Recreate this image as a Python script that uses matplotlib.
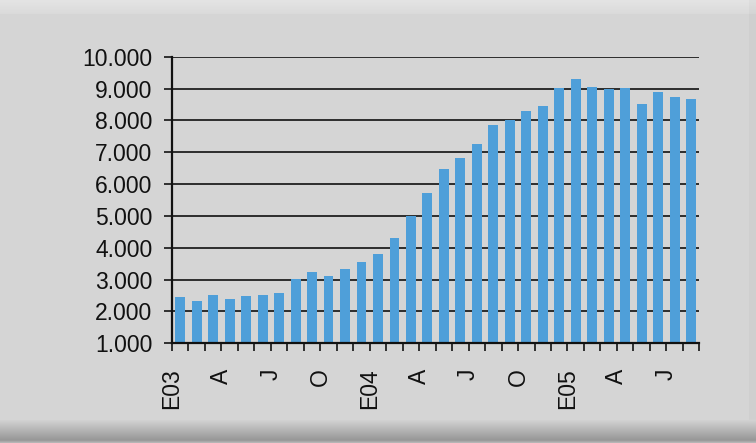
import numpy as np
import matplotlib
matplotlib.use("Agg")
import matplotlib.pyplot as plt
from matplotlib.ticker import FuncFormatter

# Monthly values Jan 2003 .. Aug 2005
values = [2445, 2330, 2530, 2380, 2497, 2508, 2571, 3021, 3230, 3126, 3325, 3555,
          3806, 4309, 5000, 5733, 6487, 6812, 7251, 7848, 8016, 8298, 8445, 9031,
          9293, 9063, 8979, 9031, 8529, 8906, 8749, 8665]
tick_labels = ["E03", "A", "J", "O", "E04", "A", "J", "O", "E05", "A", "J"]
label_step = 3
y_min, y_max, y_step = 1000, 10000, 1000

W, H = 756, 443
fig = plt.figure(figsize=(W / 100, H / 100), dpi=100)
fig.patch.set_facecolor("#d6d6d6")

# background with light top band and dark bottom shadow
bg = fig.add_axes([0, 0, 1, 1], zorder=-10)
rows = np.full(H, 214.0)
for y in range(H):
    if y < 14:
        rows[y] = 228 - (y / 14) * 10
    elif y >= 420:
        t = (y - 420) / 23
        rows[y] = 210 - 70 * t if t < 0.85 else 150 + (t - 0.85) * 300
img = np.repeat(rows[:, None], W, axis=1)
img[:420, W - 7:] -= 6
img = np.clip(img, 0, 255) / 255.0
bg.imshow(np.dstack([img, img, img]), aspect="auto", extent=[0, 1, 0, 1])
bg.axis("off")

ax = fig.add_axes([172 / W, (H - 343.3) / H, (699.3 - 172) / W, (343.3 - 56.7) / H])
ax.set_facecolor("none")
x = np.arange(len(values))
ax.bar(x, values, width=0.6, color="#4f9fd9", zorder=2)
ax.set_xlim(-0.5, len(values) - 0.5)
ax.set_ylim(y_min, y_max)
ax.set_axisbelow(True)

yt = np.arange(y_min, y_max + 1, y_step)
ax.set_yticks(yt)
ax.yaxis.set_major_formatter(FuncFormatter(lambda v, p: f"{int(v):,}".replace(",", ".")))
for v in yt:
    ax.axhline(v, color="#111111", lw=1.2, zorder=1)

bounds = np.arange(len(values) + 1) - 0.5
labs = []
for i in range(len(bounds)):
    if i % label_step == 0 and i // label_step < len(tick_labels):
        labs.append(tick_labels[i // label_step])
    else:
        labs.append("")
ax.set_xticks(bounds)
ax.set_xticklabels(labs, rotation=90, va="top", ha="center")

font = dict(family=["Liberation Sans", "DejaVu Sans"], size=16.5)
for t in ax.get_xticklabels() + ax.get_yticklabels():
    t.set_fontfamily(font["family"])
    t.set_fontsize(font["size"])
    t.set_color("#111111")

ax.tick_params(axis="y", direction="out", length=5.5, width=1.3, pad=8.5, color="#222222")
ax.tick_params(axis="x", direction="out", length=6, width=1.3, pad=12, color="#222222")

for s in ["top", "right"]:
    ax.spines[s].set_visible(False)
for s in ["left", "bottom"]:
    ax.spines[s].set_color("#111111")
    ax.spines[s].set_linewidth(1.6)
ax.spines["bottom"].set_zorder(3)

fig.savefig("out.png", dpi=100, facecolor=fig.get_facecolor())
